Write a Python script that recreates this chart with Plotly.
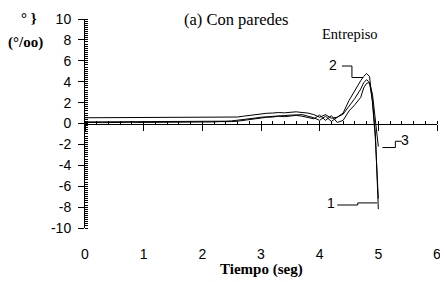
import plotly.graph_objects as go

# ---- data ----
time_s = [0.0, 0.1, 0.2, 0.3, 0.4, 0.5, 0.6, 0.7, 0.8, 0.9,
          1.0, 1.1, 1.2, 1.3, 1.4, 1.5, 1.6, 1.7, 1.8, 1.9,
          2.0, 2.1, 2.2, 2.3, 2.4, 2.5, 2.6, 2.7, 2.8, 2.9,
          3.0, 3.1, 3.2, 3.3, 3.4, 3.5, 3.6, 3.7, 3.8, 3.9,
          4.0, 4.1, 4.2, 4.3, 4.4, 4.5, 4.6, 4.7, 4.75, 4.8,
          4.85, 4.9, 4.95, 5.0]

drift_1 = [0.10, 0.12, 0.10, 0.08, 0.10, 0.12, 0.10, 0.10, 0.12, 0.10,
           0.10, 0.12, 0.10, 0.10, 0.12, 0.10, 0.10, 0.12, 0.10, 0.12,
           0.15, 0.12, 0.15, 0.18, 0.15, 0.18, 0.22, 0.30, 0.40, 0.48,
           0.55, 0.60, 0.62, 0.70, 0.65, 0.72, 0.78, 0.70, 0.60, 0.45,
           0.80, 0.30, 0.75, 0.10, 0.30, 1.20, 1.80, 2.50, 3.40, 3.85,
           3.90, 2.20, -1.00, -8.20]

drift_2 = [0.55, 0.55, 0.55, 0.55, 0.55, 0.55, 0.55, 0.55, 0.55, 0.55,
           0.55, 0.55, 0.55, 0.55, 0.55, 0.55, 0.55, 0.55, 0.55, 0.55,
           0.55, 0.55, 0.55, 0.56, 0.56, 0.58, 0.62, 0.70, 0.78, 0.85,
           0.92, 0.98, 1.00, 1.05, 1.02, 1.08, 1.12, 1.05, 1.00, 0.85,
           0.60, 0.85, 0.50, 0.60, 1.00, 2.20, 3.20, 4.10, 4.50, 4.78,
           4.50, 2.00, -1.50, -7.20]

drift_3 = [0.15, 0.15, 0.18, 0.15, 0.15, 0.15, 0.18, 0.15, 0.15, 0.15,
           0.18, 0.15, 0.15, 0.15, 0.18, 0.15, 0.15, 0.18, 0.15, 0.15,
           0.18, 0.20, 0.18, 0.20, 0.22, 0.25, 0.30, 0.38, 0.45, 0.52,
           0.60, 0.65, 0.70, 0.68, 0.75, 0.80, 0.82, 0.85, 0.70, 0.55,
           0.30, 0.70, 0.20, 0.60, 0.90, 1.60, 2.40, 3.30, 3.90, 4.20,
           3.90, 2.80, 0.50, -2.20]

x_ticks = [0, 1, 2, 3, 4, 5, 6]
y_ticks = [-10, -8, -6, -4, -2, 0, 2, 4, 6, 8, 10]
y_tick_text = ["-10", "-8", "-6", "-4", "-2", "0", "2", "4", "6", "8", "10"]

# label leader lines (time, drift) for curve tags
tag_labels = ["1", "2", "3"]
tag_text_pos = [(4.19, -7.6), (4.22, 5.6), (5.46, -1.6)]
tag_leaders = [
    ([4.30, 4.65, 4.65, 4.98], [-7.8, -7.8, -7.6, -7.6]),
    ([4.38, 4.55, 4.55, 4.74], [5.5, 5.5, 4.4, 4.4]),
    ([5.07, 5.29, 5.29, 5.40], [-2.3, -2.3, -1.7, -1.7]),
]

SERIF = "Liberation Serif, Times New Roman, serif"
SANS = "Liberation Sans, Arial, sans-serif"

fig = go.Figure()
for ys in (drift_1, drift_2, drift_3):
    fig.add_trace(go.Scatter(x=time_s, y=ys, mode="lines",
                             line=dict(color="black", width=1),
                             showlegend=False, hoverinfo="skip"))

for (lx, ly) in tag_leaders:
    fig.add_trace(go.Scatter(x=lx, y=ly, mode="lines",
                             line=dict(color="black", width=1),
                             showlegend=False, hoverinfo="skip"))

for lab, (tx, ty) in zip(tag_labels, tag_text_pos):
    fig.add_annotation(x=tx, y=ty, text=lab, showarrow=False,
                       font=dict(family=SANS, size=14, color="black"),
                       xanchor="center", yanchor="middle")

# page body has an 8px margin, so the figure is sized to fit the 448x282 window
fig.update_layout(
    width=440, height=274,
    margin=dict(l=77, r=11, t=11, b=54, autoexpand=False),
    paper_bgcolor="white", plot_bgcolor="white",
    showlegend=False,
    xaxis=dict(range=[0, 6], tickvals=x_ticks, showgrid=False, zeroline=False,
               showline=True, linecolor="black", linewidth=1,
               anchor="free", position=0.5, automargin=False,
               ticks="outside", ticklen=6, tickcolor="black", tickwidth=1,
               ticklabelstandoff=112,
               tickfont=dict(family=SANS, size=14, color="black"),
               minor=dict(dtick=0.2, ticks="inside", ticklen=3,
                          tickcolor="black", tickwidth=1, showgrid=False)),
    yaxis=dict(range=[-10, 10], tickvals=y_ticks, ticktext=y_tick_text,
               showgrid=False, zeroline=False, automargin=False,
               showline=True, linecolor="black", linewidth=1,
               ticks="outside", ticklen=6, tickcolor="black", tickwidth=1,
               ticklabelstandoff=4,
               tickfont=dict(family=SANS, size=14, color="black"),
               minor=dict(dtick=0.2, ticks="inside", ticklen=3,
                          tickcolor="black", tickwidth=1, showgrid=False)),
)

fig.add_annotation(xref="paper", yref="paper", x=0.428, y=1.0, yshift=0,
                   text="(a) Con paredes", showarrow=False,
                   font=dict(family=SERIF, size=16.5, color="black"),
                   xanchor="center", yanchor="middle")
fig.add_annotation(xref="paper", yref="paper", x=0.753, y=1.0, yshift=-15,
                   text="Entrepiso", showarrow=False,
                   font=dict(family=SERIF, size=14.5, color="black"),
                   xanchor="center", yanchor="middle")
fig.add_annotation(xref="paper", yref="paper", x=0.5, y=0, yshift=-41,
                   text="<b>Tiempo (seg)</b>", showarrow=False,
                   font=dict(family=SERIF, size=15, color="black"),
                   xanchor="center", yanchor="middle")
fig.add_annotation(xref="paper", yref="paper", x=0, xshift=-56, y=1.0, yshift=1,
                   text="<b>° }</b>", showarrow=False,
                   font=dict(family=SERIF, size=15, color="black"),
                   xanchor="center", yanchor="middle")
fig.add_annotation(xref="paper", yref="paper", x=0, xshift=-60, y=1.0, yshift=-23,
                   text="<b>(°/oo)</b>", showarrow=False,
                   font=dict(family=SERIF, size=15, color="black"),
                   xanchor="center", yanchor="middle")

fig.write_html("out.html")
